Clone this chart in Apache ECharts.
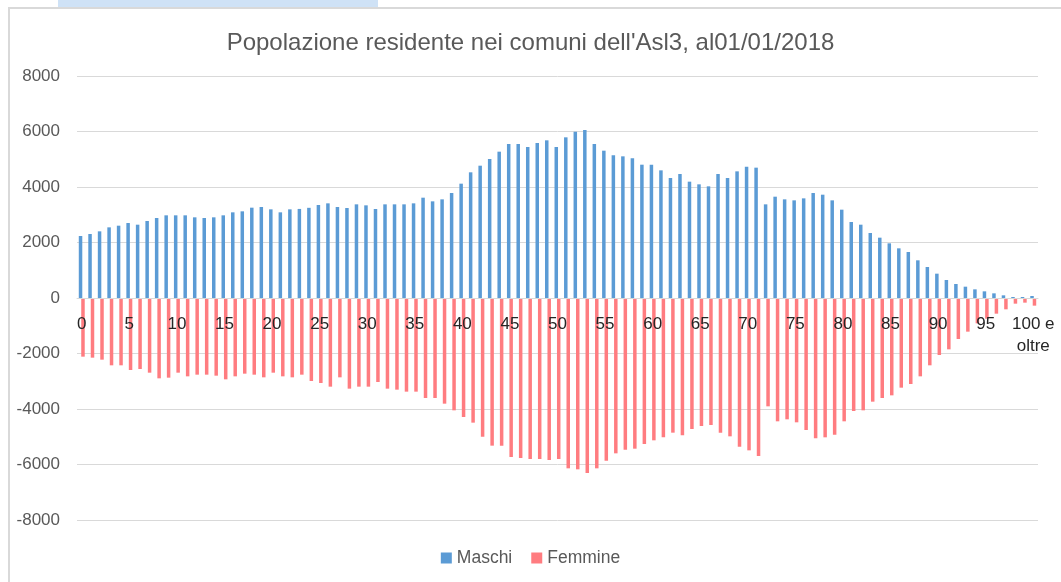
<!DOCTYPE html>
<html>
    <head>
        <meta charset="UTF-8" />
        <title>Popolazione residente</title>
        <style>
            html,
            body {
                margin: 0;
                padding: 0;
                width: 1061px;
                height: 582px;
                overflow: hidden;
                background: #fff;
            }
            #strip {
                position: absolute;
                left: 58px;
                top: 0;
                width: 320px;
                height: 7px;
                background: #cfe2f6;
            }
            #frame {
                position: absolute;
                left: 8px;
                top: 7px;
                width: 1200px;
                height: 700px;
                border-left: 2px solid #d9d9d9;
                border-top: 2px solid #d9d9d9;
            }
            #chart {
                position: absolute;
                left: 0;
                top: 0;
                width: 1061px;
                height: 582px;
            }
        </style>
    </head>
    <body>
        <div id="strip"></div>
        <div id="frame"></div>
        <div id="chart"></div>
        <script src="https://cdn.jsdelivr.net/npm/echarts@6/dist/echarts.min.js"></script>
        <script>
            const eta = [
                "0", "1", "2", "3", "4", "5", "6", "7", "8", "9",
                "10", "11", "12", "13", "14", "15", "16", "17", "18", "19",
                "20", "21", "22", "23", "24", "25", "26", "27", "28", "29",
                "30", "31", "32", "33", "34", "35", "36", "37", "38", "39",
                "40", "41", "42", "43", "44", "45", "46", "47", "48", "49",
                "50", "51", "52", "53", "54", "55", "56", "57", "58", "59",
                "60", "61", "62", "63", "64", "65", "66", "67", "68", "69",
                "70", "71", "72", "73", "74", "75", "76", "77", "78", "79",
                "80", "81", "82", "83", "84", "85", "86", "87", "88", "89",
                "90", "91", "92", "93", "94", "95", "96", "97", "98", "99",
                "100 e oltre",
            ];
            const maschi = [
                2234, 2306, 2402, 2546, 2606, 2702, 2642, 2775, 2883, 2979,
                2979, 2979, 2907, 2883, 2907, 2979, 3087, 3123, 3255, 3279,
                3195, 3087, 3195, 3210, 3250, 3351, 3411, 3279, 3243, 3375,
                3339, 3207, 3375, 3375, 3375, 3411, 3615, 3483, 3555, 3783,
                4120, 4529, 4768, 5009, 5273, 5550, 5550, 5441, 5586, 5682,
                5441, 5790, 5995, 6054, 5550, 5309, 5141, 5105, 5033, 4804,
                4804, 4600, 4324, 4468, 4192, 4096, 4024, 4468, 4324, 4564,
                4733, 4697, 3375, 3651, 3555, 3519, 3591, 3783, 3723, 3519,
                3183, 2739, 2642, 2342, 2174, 1970, 1790, 1658, 1358, 1117,
                877, 649, 505, 408, 312, 240, 168, 96, 36, 36,
                72,
            ];
            const femmine = [
                -2114, -2150, -2222, -2426, -2426, -2595, -2559, -2691, -2895, -2871,
                -2691, -2823, -2763, -2763, -2799, -2931, -2823, -2727, -2763, -2859,
                -2691, -2823, -2859, -2763, -2991, -3063, -3195, -2859, -3267, -3195,
                -3195, -3027, -3267, -3303, -3375, -3375, -3604, -3604, -3808, -4048,
                -4288, -4492, -4997, -5321, -5321, -5730, -5766, -5802, -5802, -5838,
                -5802, -6138, -6174, -6306, -6138, -5862, -5598, -5466, -5430, -5261,
                -5129, -5021, -4853, -4949, -4721, -4613, -4577, -4853, -4985, -5357,
                -5490, -5694, -3904, -4444, -4372, -4480, -4757, -5057, -5021, -4925,
                -4444, -4072, -4048, -3736, -3604, -3508, -3231, -3099, -2823, -2426,
                -2054, -1850, -1477, -1213, -913, -745, -565, -408, -204, -168,
                -276,
            ];

            const font = "Liberation Sans";
            const chart = echarts.init(document.getElementById("chart"));
            // grid is 444px high and symmetric around 0, so the category axis sits 222px up
            const option = {
                backgroundColor: "transparent",
                animation: false,
                title: {
                    text: "Popolazione residente nei comuni dell'Asl3, al01/01/2018",
                    left: "center",
                    top: 26,
                    textStyle: {
                        fontFamily: font,
                        fontSize: 24,
                        fontWeight: "normal",
                        color: "#595959",
                    },
                },
                legend: {
                    bottom: 10,
                    left: "center",
                    icon: "rect",
                    itemWidth: 11,
                    itemHeight: 11,
                    itemGap: 19,
                    textStyle: { fontFamily: font, fontSize: 17.5, color: "#595959" },
                    data: ["Maschi", "Femmine"],
                },
                grid: { left: 77, right: 23, top: 76, bottom: 62 },
                xAxis: {
                    type: "category",
                    data: eta,
                    z: 10,
                    offset: -222,
                    axisLine: { onZero: false, lineStyle: { color: "#d9d9d9" } },
                    axisTick: { show: false },
                    axisLabel: {
                        interval: 4,
                        margin: 15,
                        fontFamily: font,
                        fontSize: 17,
                        lineHeight: 22,
                        color: "#262626",
                        formatter: (v) => v.replace("100 e ", "100 e\n"),
                    },
                },
                yAxis: {
                    type: "value",
                    min: -8000,
                    max: 8000,
                    interval: 2000,
                    axisLine: { show: false },
                    axisTick: { show: false },
                    splitLine: { lineStyle: { color: "#d9d9d9" } },
                    axisLabel: {
                        margin: 17,
                        fontFamily: font,
                        fontSize: 17,
                        color: "#595959",
                        formatter: (v) => String(v),
                    },
                },
                series: [
                    {
                        name: "Maschi",
                        type: "bar",
                        data: maschi,
                        barWidth: 3.5,
                        barGap: "-30%",
                        itemStyle: { color: "#5b9bd5" },
                    },
                    {
                        name: "Femmine",
                        type: "bar",
                        data: femmine,
                        barWidth: 3.5,
                        itemStyle: { color: "#ff7c80" },
                    },
                ],
            };
            chart.setOption(option);
        </script>
    </body>
</html>
